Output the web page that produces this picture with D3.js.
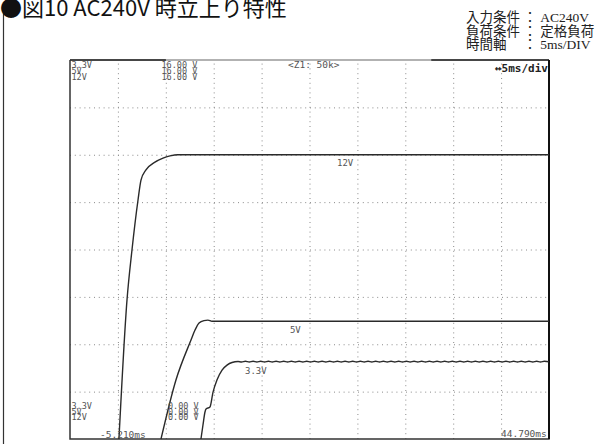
<!DOCTYPE html>
<html>
<head>
<meta charset="utf-8">
<script src="https://cdn.jsdelivr.net/npm/d3@7"></script>
<style>
  body { margin: 0; background: #fff; }
  svg { display: block; }
  .scope { font-family: "DejaVu Sans Mono", monospace; fill: #555; }
</style>
</head>
<body>
<div id="chart"></div>
<script>
// scope screen settings
const timeDomain = [-5.21, 44.79];      // ms, 5ms/div
const voltDomain = [0, 16];             // V full scale
const xDivs = [-0.21, 4.79, 9.79, 14.79, 19.79, 24.79, 29.79, 34.79, 39.79];
const yDivs = [2, 4, 6, 8, 10, 12, 14];

const channels = ['3.3V', '5V', '12V'];
const topScale = ['16.00 V', '16.00 V', '16.00 V'];
const bottomScale = ['0.00 V', '0.00 V', '0.00 V'];
const conditions = ['入力条件 ： AC240V', '負荷条件 ： 定格負荷', '時間軸\u3000 ： 5ms/DIV'];

// traces, [time ms, volt]
const v12 = [[-0.1, 0], [0.74, 5.87], [1.26, 7.98], [1.89, 10.09], [2.2, 10.93], [2.72, 11.36],
  [3.66, 11.69], [4.5, 11.86], [5.23, 11.95], [6.06, 12.0], [44.79, 12.0]];
const v5 = [[4.29, 0], [5.85, 2.49], [7.42, 4.18], [7.84, 4.6], [8.26, 4.9], [8.78, 5.0],
  [9.19, 5.02], [9.61, 4.97], [44.79, 4.97]];
const v33 = [[8.46, 0], [8.67, 0.59], [8.88, 1.14], [8.99, 1.27], [9.4, 1.35], [9.72, 1.98],
  [10.13, 2.49], [10.66, 2.91], [11.18, 3.12], [11.7, 3.23], [12.33, 3.27],
  [12.7, 3.25], [13.1, 3.28], [13.5, 3.25], [13.9, 3.28], [14.3, 3.25], [14.7, 3.28],
  [15.1, 3.25], [15.5, 3.28], [15.9, 3.25], [16.3, 3.28], [16.7, 3.25], [17.1, 3.28],
  [17.5, 3.25], [17.9, 3.28], [18.3, 3.25], [18.7, 3.28], [19.1, 3.25], [19.5, 3.28],
  [19.9, 3.25], [20.3, 3.28], [20.7, 3.25], [21.1, 3.28], [21.5, 3.25], [21.9, 3.28],
  [22.3, 3.25], [22.7, 3.28], [23.1, 3.25], [23.5, 3.28], [23.9, 3.25], [24.3, 3.28],
  [24.7, 3.25], [25.1, 3.28], [25.5, 3.25], [25.9, 3.28], [26.3, 3.25], [26.7, 3.28],
  [27.1, 3.25], [27.5, 3.28], [27.9, 3.25], [28.3, 3.28], [28.7, 3.25], [29.1, 3.28],
  [29.5, 3.25], [29.9, 3.28], [30.3, 3.25], [30.7, 3.28], [31.1, 3.25], [31.5, 3.28],
  [31.9, 3.25], [32.3, 3.28], [32.7, 3.25], [33.1, 3.28], [33.5, 3.25], [33.9, 3.28],
  [34.3, 3.25], [34.7, 3.28], [35.1, 3.25], [35.5, 3.28], [35.9, 3.25], [36.3, 3.28],
  [36.7, 3.25], [37.1, 3.28], [37.5, 3.25], [37.9, 3.28], [38.3, 3.25], [38.7, 3.28],
  [39.1, 3.25], [39.5, 3.28], [39.9, 3.25], [40.3, 3.28], [40.7, 3.25], [41.1, 3.28],
  [41.5, 3.25], [41.9, 3.28], [42.3, 3.25], [42.7, 3.28], [43.1, 3.25], [43.5, 3.28],
  [43.9, 3.25], [44.3, 3.28], [44.79, 3.26]];

// trace labels [text, time, volt]
const traceLabels = [['12V', 22.66, 11.52], ['5V', 17.75, 4.48], ['3.3V', 13.06, 2.74]];

const W = 614, H = 444;
const plot = { x: 70, y: 60, w: 479, h: 379 };

const svg = d3.select('#chart').append('svg')
  .attr('width', W).attr('height', H);

svg.append('rect').attr('width', W).attr('height', H).attr('fill', '#fff');

const x = d3.scaleLinear().domain(timeDomain).range([plot.x, plot.x + plot.w]);
const y = d3.scaleLinear().domain(voltDomain).range([plot.y + plot.h, plot.y]);

// page decoration
svg.append('line')
  .attr('x1', 3.5).attr('x2', 3.5).attr('y1', 12).attr('y2', H)
  .attr('stroke', '#333').attr('stroke-width', 1.2);

svg.append('text')
  .attr('x', 0).attr('y', 16)
  .attr('font-family', '"Noto Sans CJK JP", sans-serif')
  .attr('font-size', 22)
  .attr('fill', '#111')
  .text('●図10 AC240V 時立上り特性');

svg.append('g').selectAll('text')
  .data(conditions)
  .enter().append('text')
    .attr('x', 466)
    .attr('y', (d, i) => 22 + i * 13.5)
    .attr('font-family', '"Liberation Serif", "Noto Sans CJK JP", serif')
    .attr('font-size', 13.5)
    .attr('fill', '#222')
    .text(d => d);

// grid
const grid = svg.append('g');
grid.append('g')
  .attr('transform', `translate(0, ${plot.y + plot.h})`)
  .call(d3.axisBottom(x).tickValues(xDivs).tickSize(-plot.h).tickFormat(''))
  .call(g => g.select('.domain').remove());
grid.append('g')
  .attr('transform', `translate(${plot.x}, 0)`)
  .call(d3.axisLeft(y).tickValues(yDivs).tickSize(-plot.w).tickFormat(''))
  .call(g => g.select('.domain').remove());
grid.selectAll('.tick line')
  .attr('stroke', '#8a8a8a')
  .attr('stroke-width', 1)
  .attr('stroke-dasharray', '1,3.8');

// frame
const frame = svg.append('g').attr('fill', 'none');
frame.append('line')
  .attr('x1', plot.x).attr('x2', plot.x + plot.w).attr('y1', plot.y).attr('y2', plot.y)
  .attr('stroke', '#999').attr('stroke-width', 1.5);
[[timeDomain[0], 4.8], [32.5, timeDomain[1]]].forEach(seg => {
  frame.append('line')
    .attr('x1', x(seg[0])).attr('x2', x(seg[1])).attr('y1', plot.y).attr('y2', plot.y)
    .attr('stroke', '#222').attr('stroke-width', 1.5);
});
frame.append('path')
  .attr('d', `M${plot.x},${plot.y}V${plot.y + plot.h}H${plot.x + plot.w}V${plot.y}`)
  .attr('stroke', '#333').attr('stroke-width', 1.5);
frame.append('path')
  .attr('d', `M${plot.x + plot.w},${plot.y}V${plot.y + plot.h}`)
  .attr('stroke', '#111').attr('stroke-width', 2);

// traces
const line = d3.line()
  .x(d => x(d[0]))
  .y(d => y(d[1]))
  .curve(d3.curveMonotoneX);

[v12, v5, v33].forEach(series => {
  svg.append('path')
    .datum(series)
    .attr('fill', 'none')
    .attr('stroke', '#2a2a2a')
    .attr('stroke-width', 1.4)
    .attr('d', line);
});

// scope texts
const txt = svg.append('g').attr('class', 'scope').attr('font-size', 8.5);

txt.selectAll('.chTop').data(channels).enter().append('text')
  .attr('x', plot.x + 1.5).attr('y', (d, i) => 68 + i * 6).text(d => d);
txt.selectAll('.scTop').data(topScale).enter().append('text')
  .attr('x', 161.5).attr('y', (d, i) => 68 + i * 6).text(d => d);
txt.selectAll('.chBot').data(channels).enter().append('text')
  .attr('x', plot.x + 1.5).attr('y', (d, i) => 409 + i * 5.5).text(d => d);
txt.selectAll('.scBot').data(bottomScale).enter().append('text')
  .attr('x', 168).attr('y', (d, i) => 409 + i * 5.5).text(d => d);

txt.append('text').attr('x', 288).attr('y', 67.5).attr('font-size', 9.5).text('<Z1: 50k>');
txt.append('text').attr('x', 100).attr('y', 438).attr('font-size', 9.5).text('-5.210ms');
txt.append('text').attr('x', 501).attr('y', 437).attr('font-size', 9.5).text('44.790ms');

txt.append('text')
  .attr('x', 495).attr('y', 71.5)
  .attr('font-size', 11).attr('font-weight', 'bold')
  .attr('fill', '#222')
  .text('↔5ms/div');

txt.selectAll('.trLabel').data(traceLabels).enter().append('text')
  .attr('x', d => x(d[1]))
  .attr('y', d => y(d[2]))
  .attr('font-size', 9)
  .text(d => d[0]);
</script>
</body>
</html>
